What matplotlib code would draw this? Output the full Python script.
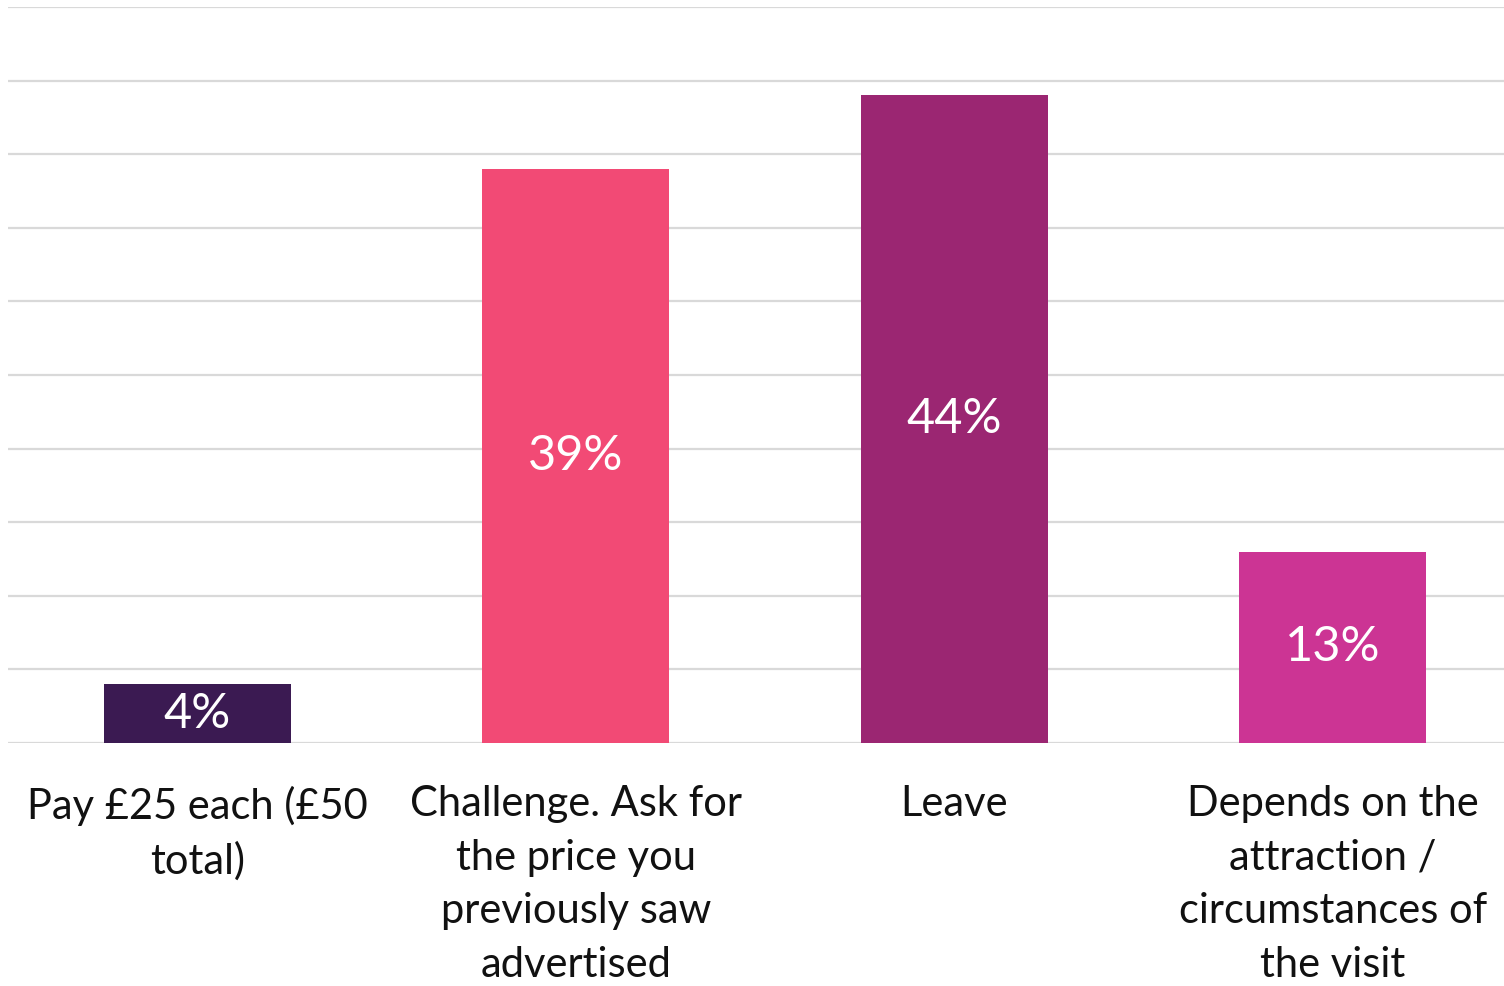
import numpy as np
import matplotlib.pyplot as plt

categories = [
    "Pay £25 each (£50\ntotal)",
    "Challenge. Ask for\nthe price you\npreviously saw\nadvertised",
    "Leave",
    "Depends on the\nattraction /\ncircumstances of\nthe visit",
]
values = [4, 39, 44, 13]
colors = ["#3b1a52", "#f24a75", "#9b2672", "#cc3494"]

plt.rcParams["font.family"] = ["Lato", "DejaVu Sans"]

fig = plt.figure(figsize=(15.04, 9.86), dpi=100)
ax = fig.add_axes([8 / 1504, 1 - 743 / 986, 1514 / 1504, 736 / 986])

x = np.arange(len(categories))
bars = ax.bar(x, values, width=0.495, color=colors, zorder=3)

# value labels sit in the middle of each bar
for b, v in zip(bars, values):
    ax.text(b.get_x() + b.get_width() / 2, v / 2, f"{v}%",
            ha="center", va="center", color="white", fontsize=35,
            zorder=4)

ax.set_xlim(-0.5, 3.5)
ax.set_ylim(0, 50)
ax.set_yticks(np.arange(0, 51, 5))
ax.yaxis.grid(True, color="#d9d9d9", lw=1.6, zorder=0)
ax.tick_params(axis="y", left=False, labelleft=False)
ax.tick_params(axis="x", bottom=False, pad=27)
ax.set_xticks(x)
ax.set_xticklabels(categories, fontsize=30, linespacing=1.5,
                   color="#111111")
for s in ax.spines.values():
    s.set_visible(False)

fig.savefig("out.png", dpi=100)
